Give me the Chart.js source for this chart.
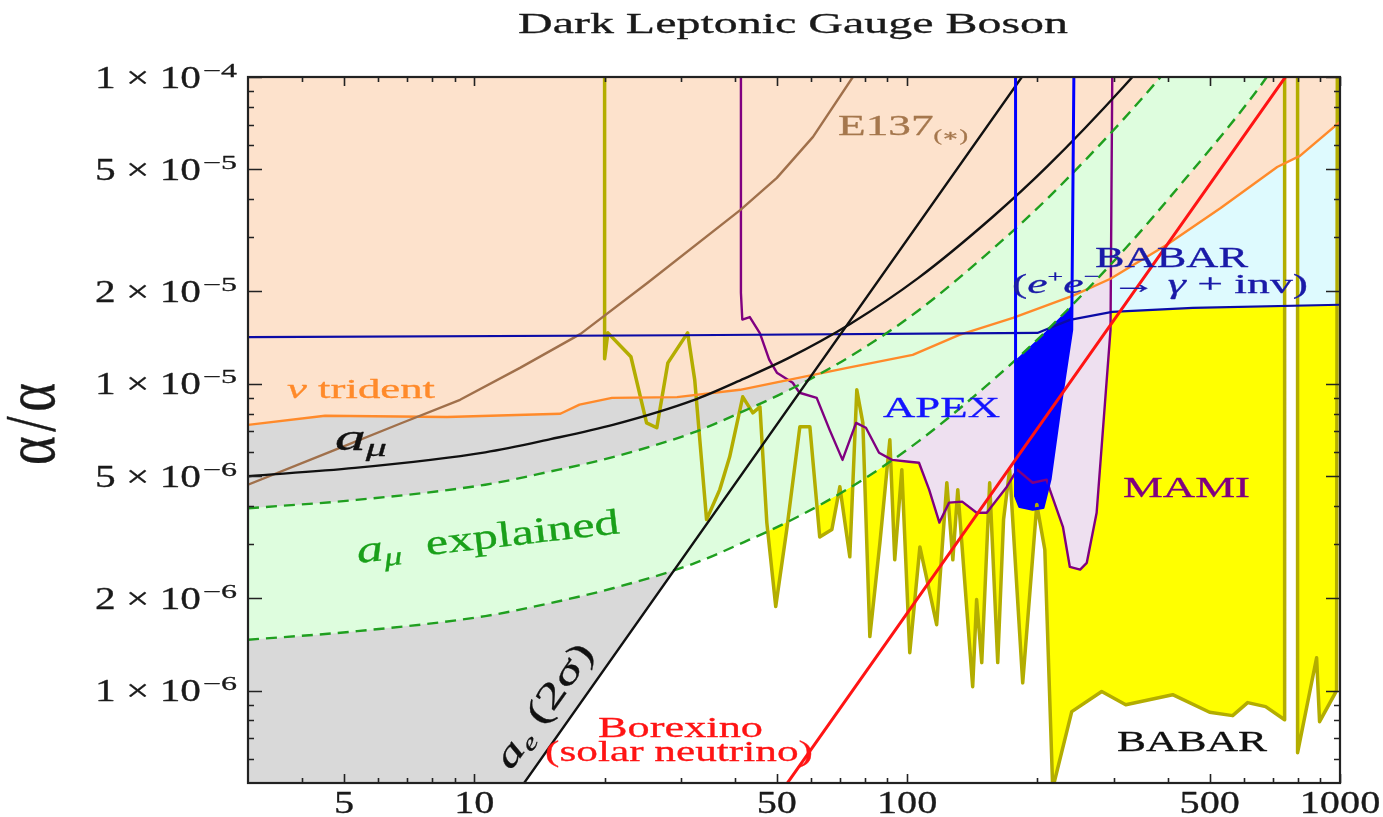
<!DOCTYPE html>
<html>
<head>
<meta charset="utf-8">
<script src="https://cdn.jsdelivr.net/npm/chart.js@4.4.1/dist/chart.umd.min.js"></script>
<style>
  html, body { margin: 0; padding: 0; background: #fff; }
  #wrap { position: relative; width: 1383px; height: 817px; }
</style>
</head>
<body>
<div id="wrap"><canvas id="c"></canvas></div>
<script>
// ---- axis limits (mass in MeV, coupling ratio) ----
const xRange = [3, 1000];
const yRange = [5e-7, 1e-4];

// ---- ticks ----
const xMajorTicks = [5, 10, 50, 100, 500, 1000];
const xTickLabels = ['5', '10', '50', '100', '500', '1000'];
const xMinorTicks = [4, 6, 7, 8, 9, 20, 30, 40, 60, 70, 80, 90, 200, 300, 400, 600, 700, 800, 900];
const yMajorTicks = [1e-6, 2e-6, 5e-6, 1e-5, 2e-5, 5e-5, 1e-4];
const yTickMantissa = ['1', '2', '5', '1', '2', '5', '1'];
const yTickExponent = ['\u22126', '\u22126', '\u22126', '\u22125', '\u22125', '\u22125', '\u22124'];
const yMinorTicks = [6e-7, 7e-7, 8e-7, 9e-7, 3e-6, 4e-6, 6e-6, 7e-6, 8e-6, 9e-6, 3e-5, 4e-5, 6e-5, 7e-5, 8e-5, 9e-5];

// ---- muon g-2: bound and the band that explains the anomaly (shared mass grid) ----
const amuMass     = [3, 5.3, 10.6, 15, 21, 32, 42, 53, 74, 106, 158, 211, 317, 423, 634, 760];
const amuBound    = [5.0e-6, 5.32e-6, 5.98e-6, 6.6e-6, 7.36e-6, 8.83e-6, 1.04e-5, 1.21e-5, 1.57e-5, 2.21e-5, 3.51e-5, 5.12e-5, 9.33e-5, 1.49e-4, 3.0e-4, 4.3e-4];
const amuBandHigh = [3.93e-6, 4.18e-6, 4.69e-6, 5.18e-6, 5.78e-6, 6.93e-6, 8.16e-6, 9.5e-6, 1.23e-5, 1.73e-5, 2.76e-5, 4.02e-5, 7.32e-5, 1.17e-4, 2.36e-4, 3.4e-4];
const amuBandLow  = [1.465e-6, 1.56e-6, 1.75e-6, 1.93e-6, 2.16e-6, 2.59e-6, 3.05e-6, 3.55e-6, 4.6e-6, 6.48e-6, 1.03e-5, 1.5e-5, 2.73e-5, 4.37e-5, 8.8e-5, 1.26e-4];

// ---- electron g-2 (2 sigma) and Borexino ----
const aeLine = [[12.5, 4.6e-7], [200, 1.18e-4]];
const borexino = [[50, 4.47e-7], [800, 1.144e-4]];

// ---- E137 beam dump ----
const e137 = [[3, 4.69e-6], [4.64, 6.0e-6], [6.73, 7.41e-6], [9.27, 8.87e-6], [12.75, 1.127e-5], [17.6, 1.455e-5],
  [25.1, 2.13e-5], [41.2, 3.69e-5], [50, 4.69e-5], [60.6, 6.38e-5], [74.9, 1e-4], [82, 1.22e-4]];

// ---- neutrino trident ----
const trident = [[3, 7.35e-6], [4.52, 7.87e-6], [8.65, 7.8e-6], [15.8, 7.99e-6], [17.5, 8.55e-6], [20.8, 9.0e-6],
  [29.4, 9.05e-6], [41.1, 9.56e-6], [72.7, 1.127e-5], [103, 1.243e-5], [132, 1.444e-5], [175.6, 1.64e-5],
  [241, 1.934e-5], [295, 2.2e-5], [398, 2.84e-5], [530, 3.74e-5], [716, 5.09e-5], [808, 5.53e-5], [1000, 7.14e-5]];

// region excluded by a_e / a_mu underneath the trident bound
const gregion = [[3, 4.8e-7], [3, 7.35e-6], [4.52, 7.87e-6], [8.65, 7.8e-6], [15.8, 7.99e-6], [17.5, 8.55e-6],
  [20.8, 9.0e-6], [29.4, 9.05e-6], [41.1, 9.56e-6], [59.5, 1.05e-5], [12.75, 4.8e-7]];

// ---- BABAR e+e- -> gamma + invisible ----
const babarInv = [[3, 1.42e-5], [30, 1.44e-5], [200, 1.465e-5], [237.6, 1.616e-5], [297.6, 1.716e-5], [457, 1.769e-5], [1000, 1.81e-5]];
const babarInvRegionA = [[295, 1.2e-4], [295, 1.716e-5], [457, 1.769e-5], [745, 1.79e-5], [745, 1.2e-4]];
const babarInvRegionB = [[798, 1.2e-4], [798, 1.8e-5], [1000, 1.81e-5], [1000, 1.2e-4]];

// ---- BABAR visible (two pieces around the rho/omega gap) ----
const babarVisA = [[20.0, 1.2e-4], [20.0, 1.206e-5], [20.35, 1.466e-5], [23.0, 1.225e-5], [25.0, 7.46e-6], [26.4, 7.19e-6],
  [28.0, 1.17e-5], [31.1, 1.466e-5], [32.3, 1.03e-5], [34.4, 3.61e-6], [36.9, 4.52e-6], [38.9, 5.78e-6], [41.7, 9.07e-6],
  [44.0, 8.04e-6], [45.7, 8.41e-6], [47.4, 3.53e-6], [49.7, 1.88e-6], [52.7, 3.35e-6], [56.5, 7.24e-6], [59.6, 7.24e-6],
  [62.8, 3.17e-6], [67.0, 3.35e-6], [69.9, 4.62e-6], [73.7, 2.73e-6], [76.5, 9.56e-6], [79.0, 7.46e-6], [82.0, 1.50e-6],
  [86.5, 3.03e-6], [91.2, 6.57e-6], [93.6, 2.67e-6], [97.2, 5.25e-6], [101.4, 1.33e-6], [107, 2.94e-6], [117, 1.64e-6],
  [123.5, 4.76e-6], [127.5, 2.67e-6], [130.9, 4.52e-6], [141.7, 1.03e-6], [144.7, 1.98e-6], [148.7, 1.234e-6],
  [155.1, 4.76e-6], [161.9, 1.234e-6], [167, 3.61e-6], [172.5, 5.25e-6], [184.9, 1.06e-6], [192.3, 2.13e-6],
  [199.3, 4.04e-6], [208, 2.88e-6], [216.9, 4.8e-7], [240, 8.54e-7], [281.5, 9.93e-7], [319.9, 9.0e-7], [410.6, 9.7e-7],
  [499.8, 8.5e-7], [564.9, 8.29e-7], [611.8, 9.14e-7], [673.2, 8.87e-7], [744.9, 8.04e-7], [744.9, 1.2e-4]];
const babarVisB = [[798, 1.2e-4], [798, 6.28e-7], [883, 1.28e-6], [897, 7.92e-7], [982, 1.0e-6], [986, 1.2e-4]];

// ---- MAMI ----
const mami = [[41.3, 1.2e-4], [41.3, 1.98e-5], [41.6, 1.62e-5], [43.3, 1.65e-5], [45.7, 1.46e-5], [48, 1.2e-5], [50, 1.087e-5],
  [54.4, 1.008e-5], [56.4, 9.35e-6], [61.8, 9.0e-6], [66.2, 7.08e-6], [70.9, 5.65e-6], [76.2, 7.46e-6], [80.3, 7.19e-6],
  [86.1, 5.96e-6], [92.3, 5.65e-6], [101, 5.57e-6], [106.5, 5.53e-6], [112.4, 4.52e-6], [118.7, 3.53e-6], [125, 4.10e-6],
  [134, 4.13e-6], [144.7, 3.80e-6], [152.7, 3.80e-6], [170, 4.62e-6], [179.5, 5.25e-6], [195, 4.76e-6], [210, 4.87e-6],
  [213.6, 4.52e-6], [229, 3.42e-6], [237.6, 2.53e-6], [251, 2.48e-6], [260, 2.61e-6], [274, 3.80e-6], [295, 1.5e-5], [298, 1.2e-4]];

// ---- APEX ----
const apex = [[178, 1.2e-4], [178, 4.3e-6], [182, 3.98e-6], [195, 3.9e-6], [206, 3.95e-6], [214, 4.9e-6], [226, 8.55e-6], [240, 1.5e-5], [243, 1.2e-4]];

// ---------------------------------------------------------------------------
const pairs = arr => arr.map(([x, y]) => ({ x, y }));
const zip = (xs, ys) => xs.map((x, i) => ({ x, y: ys[i] }));

const COL = {
  peach: 'rgb(253,226,204)', grey: 'rgb(217,217,217)', band: 'rgb(222,253,222)', lavender: 'rgb(238,224,240)',
  cyan: 'rgb(222,250,254)', yellow: '#ffff00', apex: '#0000ff', olive: '#b3ad00', purple: '#800080',
  orange: '#ff8a2a', brown: '#a0704b', navy: '#0b0ba6', green: '#1f9f1f', red: '#ff1414', black: '#111111'
};

function region(data, color, fill) {
  return { data, showLine: true, pointRadius: 0, borderWidth: 0, borderColor: 'rgba(0,0,0,0)',
           backgroundColor: color, fill: fill || 'shape' };
}
function curve(data, color, width, extra) {
  return Object.assign({ data, showLine: true, pointRadius: 0, borderWidth: width, borderColor: color,
           backgroundColor: color, fill: false, borderJoinStyle: 'round', borderCapStyle: 'round' }, extra || {});
}

const datasets = [
  region(pairs(babarVisA), COL.yellow),
  region(pairs(babarVisB), COL.yellow),
  region(pairs(babarInvRegionA), COL.cyan),
  region(pairs(babarInvRegionB), COL.cyan),
  region(pairs(mami), COL.lavender),
  region(pairs(apex), COL.apex),
  region(pairs(trident), COL.peach, 'end'),
  region(pairs(gregion), COL.grey),
  Object.assign(region(zip(amuMass, amuBandHigh), 'rgba(0,0,0,0)', false), { cubicInterpolationMode: 'monotone' }),
  Object.assign(region(zip(amuMass, amuBandLow), COL.band, '-1'), { cubicInterpolationMode: 'monotone' }),
  curve(pairs(babarVisA), COL.olive, 3.5, { borderCapStyle: 'butt' }),
  curve(pairs(babarVisB), COL.olive, 3.5, { borderCapStyle: 'butt' }),
  curve(pairs(mami), COL.purple, 2.4),
  curve(pairs(trident), COL.orange, 2.4),
  curve(pairs(e137), COL.brown, 2.4),
  curve(pairs(babarInv), COL.navy, 2.2),
  curve(zip(amuMass, amuBandHigh), COL.green, 2.4, { borderDash: [11, 7], borderCapStyle: 'butt', cubicInterpolationMode: 'monotone' }),
  curve(zip(amuMass, amuBandLow), COL.green, 2.4, { borderDash: [11, 7], borderCapStyle: 'butt', cubicInterpolationMode: 'monotone' }),
  curve(zip(amuMass, amuBound), COL.black, 2.4, { cubicInterpolationMode: 'monotone' }),
  curve(pairs(aeLine), COL.black, 2.4),
  curve(pairs(apex), COL.apex, 3),
  curve(pairs(borexino), COL.red, 3)
];
// first listed sits at the back
datasets.forEach((d, i) => { d.order = datasets.length - i; });

// ---- text ----
const SERIF = '"Liberation Serif", "Times New Roman", "DejaVu Serif", serif';
const fontOf = r => `${r.italic ? 'italic ' : ''}${r.size}px ${SERIF}`;

function drawRuns(ctx, lab) {
  ctx.save();
  ctx.translate(lab.x, lab.y);
  if (lab.rot) ctx.rotate(lab.rot * Math.PI / 180);
  let natural = 0;
  for (const r of lab.runs) { ctx.font = fontOf(r); natural += ctx.measureText(r.t).width; }
  const total = lab.width || natural * (lab.sx || 1);
  const sx = total / natural;
  const start = lab.align === 'center' ? -total / 2 : lab.align === 'right' ? -total : 0;
  ctx.scale(sx, lab.sy || 1);
  const color = lab.color || '#1a1a1a';
  ctx.fillStyle = color;
  ctx.strokeStyle = color;
  ctx.lineWidth = 0.3;
  ctx.lineJoin = 'round';
  ctx.textBaseline = 'alphabetic';
  ctx.textAlign = 'left';
  let cx = start / sx;
  for (const r of lab.runs) {
    ctx.font = fontOf(r);
    ctx.fillText(r.t, cx, r.dy || 0);
    ctx.strokeText(r.t, cx, r.dy || 0);
    cx += ctx.measureText(r.t).width;
  }
  ctx.restore();
}

const annotations = [
  { runs: [{ t: 'Dark Leptonic Gauge Boson', size: 29 }], x: 793, y: 33, width: 550, align: 'center', color: '#1a1a1a' },
  { runs: [{ t: '\u03b1\u200a/\u200a\u03b1', size: 54 }], x: 54, y: 424, width: 82, sy: 1.35, rot: -90, align: 'center', color: '#1a1a1a' },
  { runs: [{ t: 'E137', size: 30 }, { t: '(\u2217)', size: 17, dy: 6 }], x: 838, y: 135, width: 130, color: '#a5774d' },
  { runs: [{ t: '\u03bd', size: 27, italic: true }, { t: ' trident', size: 27 }], x: 287, y: 398, width: 148, color: '#ff8a2a' },
  { runs: [{ t: 'a', size: 38, italic: true }, { t: '\u03bc', size: 26, italic: true, dy: 6 }], x: 335, y: 450, width: 52, color: '#111' },
  { runs: [{ t: 'a', size: 38, italic: true }, { t: '\u03bc', size: 26, italic: true, dy: 6 }, { t: '  explained', size: 36 }],
    x: 358, y: 563, width: 264, rot: -6.5, color: '#1aa01a' },
  { runs: [{ t: 'a', size: 36, italic: true }, { t: 'e', size: 22, italic: true, dy: 6 }, { t: ' (2\u03c3)', size: 36 }],
    x: 553, y: 712, width: 145, rot: -54.7, align: 'center', color: '#111' },
  { runs: [{ t: 'Borexino', size: 30 }], x: 598, y: 737, width: 165, color: '#ff1414' },
  { runs: [{ t: '(solar neutrino)', size: 29 }], x: 545, y: 761, width: 268, color: '#ff1414' },
  { runs: [{ t: 'APEX', size: 30 }], x: 883, y: 417, width: 117, color: '#1414ff' },
  { runs: [{ t: 'BABAR', size: 30 }], x: 1095, y: 267, width: 153, color: '#1a1aa8' },
  { runs: [{ t: '(', size: 28 }, { t: 'e', size: 28, italic: true }, { t: '+', size: 17, dy: -11 }, { t: 'e', size: 28, italic: true },
           { t: '\u2212', size: 17, dy: -11 }, { t: ' \u2192 ', size: 28 }, { t: '\u03b3', size: 28, italic: true }, { t: ' + inv)', size: 28 }],
    x: 1012, y: 293, width: 296, color: '#1a1aa8' },
  { runs: [{ t: 'MAMI', size: 30 }], x: 1123, y: 497, width: 127, color: '#800080' },
  { runs: [{ t: 'BABAR', size: 30 }], x: 1117, y: 751, width: 150, color: '#111' }
];

// frame, inward ticks, tick labels and annotations
const decor = {
  id: 'decor',
  beforeDraw(chart) {
    const { ctx } = chart;
    ctx.save(); ctx.fillStyle = '#fff'; ctx.fillRect(0, 0, chart.width, chart.height); ctx.restore();
  },
  afterDraw(chart) {
    const { ctx, chartArea: a, scales: { x, y } } = chart;
    ctx.save();
    ctx.strokeStyle = '#222';
    ctx.lineWidth = 1.6;
    ctx.beginPath();
    const xt = (v, len) => {
      const px = Math.round(x.getPixelForValue(v)) + 0.5;
      ctx.moveTo(px, a.bottom); ctx.lineTo(px, a.bottom - len);
      ctx.moveTo(px, a.top); ctx.lineTo(px, a.top + len);
    };
    const yt = (v, len) => {
      const py = Math.round(y.getPixelForValue(v)) + 0.5;
      ctx.moveTo(a.left, py); ctx.lineTo(a.left + len, py);
      ctx.moveTo(a.right, py); ctx.lineTo(a.right - len, py);
    };
    xMajorTicks.forEach(v => xt(v, 9));
    xMinorTicks.forEach(v => xt(v, 5));
    yMajorTicks.forEach(v => yt(v, 14));
    yMinorTicks.forEach(v => yt(v, 6));
    ctx.stroke();
    ctx.lineWidth = 2.2;
    ctx.strokeRect(a.left, a.top, a.right - a.left, a.bottom - a.top);
    ctx.restore();

    xMajorTicks.forEach((v, i) => {
      drawRuns(ctx, { runs: [{ t: xTickLabels[i], size: 31 }], x: x.getPixelForValue(v), y: 813, sx: 1.3, align: 'center', color: '#1a1a1a' });
    });
    yMajorTicks.forEach((v, i) => {
      const py = y.getPixelForValue(v);
      drawRuns(ctx, { runs: [{ t: yTickMantissa[i] + ' \u00d7 10', size: 31 }], x: 201, y: py + 10.5, width: 106, align: 'right', color: '#1a1a1a' });
      drawRuns(ctx, { runs: [{ t: yTickExponent[i], size: 19 }], x: 237, y: py - 0.5, width: 34, align: 'right', color: '#1a1a1a' });
    });
    annotations.forEach(l => drawRuns(ctx, l));
  }
};

new Chart(document.getElementById('c'), {
  type: 'scatter',
  data: { datasets },
  options: {
    responsive: true,
    maintainAspectRatio: false,
    animation: false,
    events: [],
    layout: { padding: { left: 248, right: 43, top: 77, bottom: 34 } },
    plugins: { legend: { display: false }, tooltip: { enabled: false }, title: { display: false } },
    scales: {
      x: { type: 'logarithmic', min: xRange[0], max: xRange[1], display: false },
      y: { type: 'logarithmic', min: yRange[0], max: yRange[1], display: false }
    }
  },
  plugins: [decor]
});
</script>
</body>
</html>
